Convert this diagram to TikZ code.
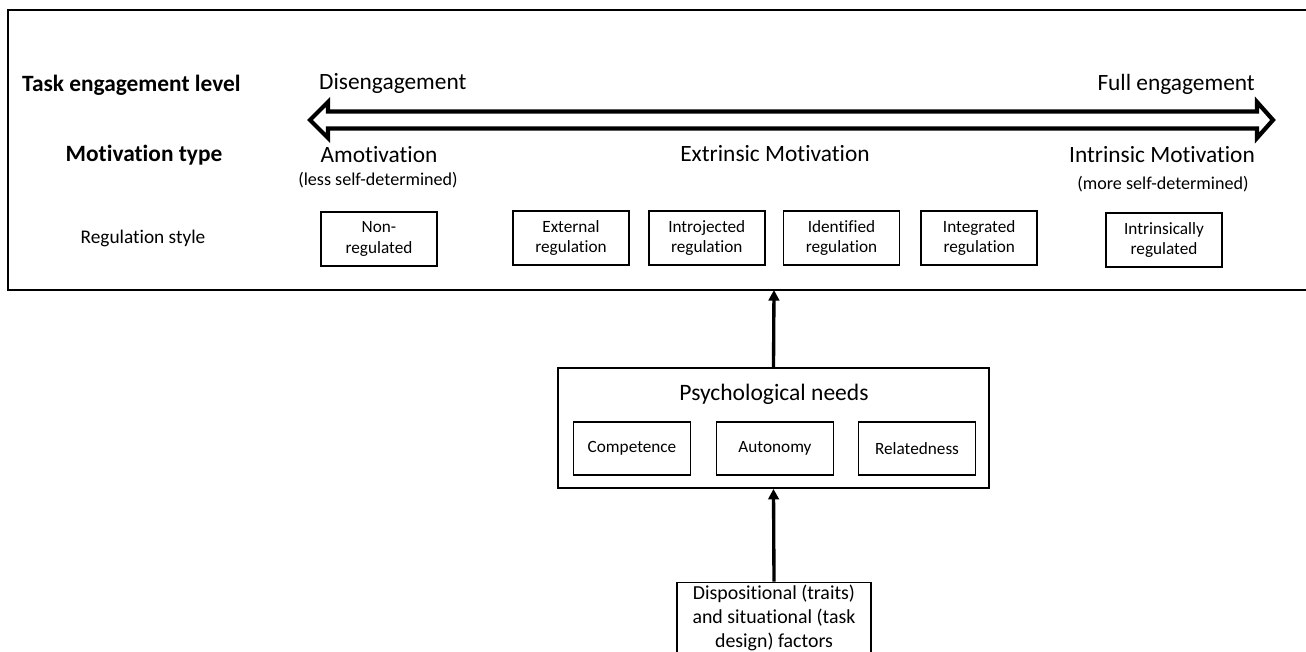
\documentclass[tikz,border=0pt]{standalone}
\usepackage{fontspec}
\setmainfont{Carlito}[Ligatures={NoCommon,NoContextual,NoRequired,NoRare},RawFeature={-calt}]
\usetikzlibrary{positioning,arrows.meta}

\tikzset{
  rowlabel/.style={font=\fontsize{13.3}{15}\selectfont\bfseries},
  biglabel/.style={font=\fontsize{13.3}{15}\selectfont},
  smalllabel/.style={font=\fontsize{10.3}{12}\selectfont},
  regbox/.style={draw,line width=1pt,minimum width=2.32cm,minimum height=1.08cm,
    align=center,inner sep=1pt,font=\fontsize{9.8}{11.6}\selectfont},
  needbox/.style={regbox,minimum width=2.34cm,minimum height=1.06cm},
  uparrow/.style={line width=1.9pt,-{Triangle[width=6pt,length=6pt]}}
}

\begin{document}
\begin{tikzpicture}[x=0.02cm,y=-0.02cm]
\useasboundingbox (0,0) rectangle (1306,652);
% frame
\draw[line width=1pt] (8,10) rectangle (1312,290);
\coordinate (frame) at (774,290);
% row labels
\node[rowlabel,anchor=west] (task) at (16,85) {Task engagement level};
\node[rowlabel] (mtype) at (144,155) {Motivation type};
\node[font=\fontsize{11}{13}\selectfont] (rstyle) at (143,238) {Regulation style};
% engagement arrow
\node[biglabel,anchor=west] (dis) at (313,83) {Disengagement};
\node[biglabel,anchor=east] (full) at (1261,84) {Full engagement};
\draw[line width=2.4pt,line join=miter,fill=white] (310,120) -- (328,102) -- (328,111.5)
  -- (1257,111.5) -- (1257,102) -- (1273,120) -- (1257,138) -- (1257,128.5)
  -- (328,128.5) -- (328,138) -- cycle;
% motivation types
\node[biglabel] (amot) at (379,155) {Amotivation};
\node[smalllabel] (less) at (378,180) {(less self-determined)};
\node[biglabel] (extr) at (775,154) {Extrinsic Motivation};
\node[biglabel] (intr) at (1162,155) {Intrinsic Motivation};
\node[smalllabel] (more) at (1163,184) {(more self-determined)};
% regulation styles
\node[regbox] (nonreg) at (379,239) {Non-\\regulated};
\node[regbox] (ext) at (571,238) {External\\regulation};
\node[regbox,right=0.36cm of ext] (intro) {Introjected\\regulation};
\node[regbox,right=0.34cm of intro] (ident) {Identified\\regulation};
\node[regbox,right=0.4cm of ident] (integ) {Integrated\\regulation};
\node[regbox] (intreg) at (1164,240) {Intrinsically\\regulated};
% needs
\node[draw,line width=1pt,minimum width=8.62cm,minimum height=2.4cm] (needs) at (773.5,428) {};
\node[biglabel,font=\fontsize{13.4}{15}\selectfont] (ptitle) at (774,394) {Psychological needs};
\node[needbox] (comp) at (632,448.5) {Competence};
\node[needbox] (auto) at (775,448.5) {Autonomy};
\node[needbox] (relat) at (917,448.5) {Relatedness};
% factors
\node[draw,line width=1pt,minimum width=3.88cm,align=center,inner ysep=1.5pt,
  font=\fontsize{11.3}{13.6}\selectfont] (disp) at (774,618)
  {Dispositional (traits)\\and situational (task\\design) factors};
\draw[uparrow] (disp.north) -- (needs.south);
\draw[uparrow] (needs.north) -- (frame);
\end{tikzpicture}
\end{document}
